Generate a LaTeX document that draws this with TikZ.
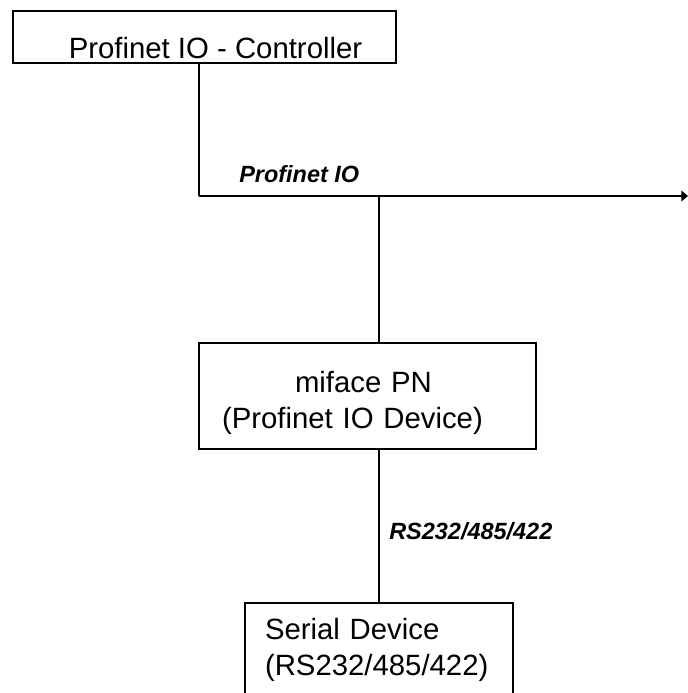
\documentclass[tikz,border=0pt]{standalone}
\usepackage{fontspec}
\setmainfont{Liberation Sans}
\usetikzlibrary{arrows.meta,positioning,calc}

\begin{document}
\begin{tikzpicture}[
    x=0.75pt, y=-0.75pt,
    box/.style={rectangle, draw, line width=1pt, inner sep=0pt, font=\fontsize{22}{27}\selectfont},
    buslabel/.style={font=\fontsize{17.6}{21}\selectfont\bfseries\itshape, inner sep=0pt},
    link/.style={line width=1pt},
    bus/.style={-{Triangle[length=5pt,width=8pt]}, line width=1.5pt}
]
    \clip (0,0) rectangle (688,693);

    % controller
    \node[box, minimum width=287.25pt, minimum height=39pt, text height=31.5pt, text depth=0pt] (ctrl) at (204.5,37) {\hspace*{16.5pt}Profinet IO - Controller};

    % profinet bus
    \coordinate (busL) at (199,196);
    \coordinate (busR) at (688,196);
    \node[buslabel, anchor=base west] (pnlabel) at (239,182) {Profinet IO};

    % miface
    \node[box, minimum width=252.75pt, minimum height=79.5pt, text width=218.25pt, align=left, text height=16pt, text depth=22pt] (dev) at (367.5,396) {\hspace*{54.75pt}miface PN\\(Profinet IO Device)};

    % serial device
    \node[box, minimum width=201pt, minimum height=82.5pt, text width=171pt, align=left, text height=16pt, text depth=44.5pt] (ser) at (379,658) {Serial Device\\(RS232/485/422)};
    \node[buslabel, anchor=base west] (rslabel) at (389,539) {RS232/485/422};

    % lines
    \draw[link] (ctrl.south -| busL) -- (busL);
    \draw[bus] (busL) -- (busR);
    \draw[link] (ser.north |- busL) -- (ser.north |- dev.north);
    \draw[link] (ser.north |- dev.south) -- (ser.north);
\end{tikzpicture}
\end{document}
